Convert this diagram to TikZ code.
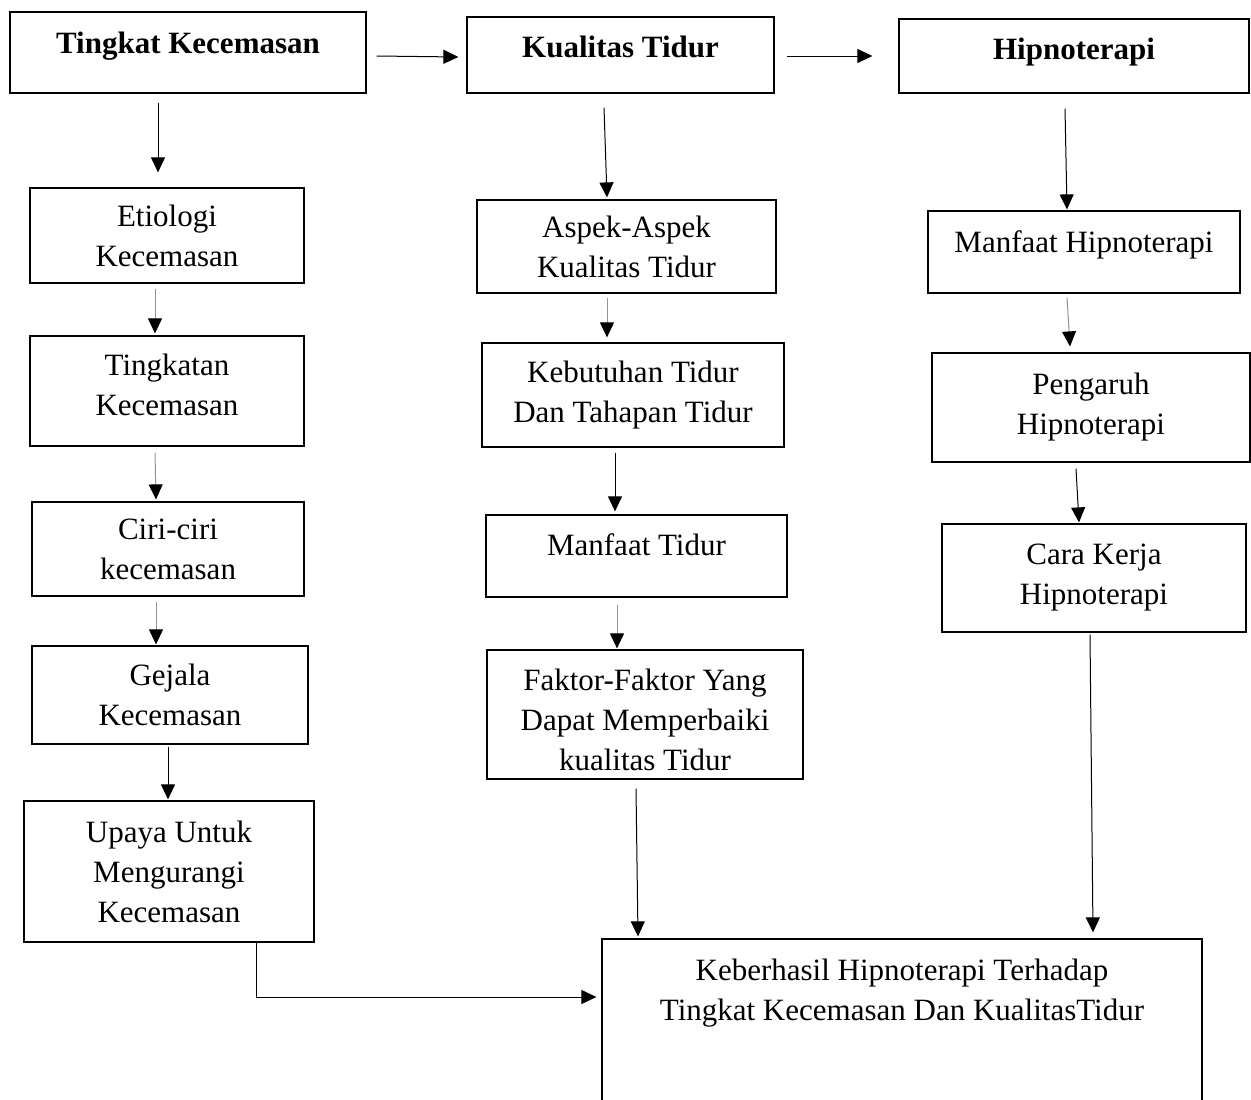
\documentclass[tikz,border=0pt]{standalone}
\usepackage{fontspec}
\setmainfont{Liberation Serif}
\usetikzlibrary{arrows.meta}
\begin{document}
\begin{tikzpicture}[x=1pt,y=-1pt,>={Triangle[length=15pt,width=14pt]},
  every node/.style={font=\fontsize{31}{40}\selectfont},
  box/.style={draw,line width=1.2pt,align=center,inner sep=0pt},
  hdr/.style={font=\fontsize{31}{40}\selectfont\bfseries},
  sz/.style 2 args={minimum width=#1pt,minimum height=#2pt},
  arr/.style={->,line width=1pt},
  garr/.style={line width=1pt,draw=gray!85,-{Triangle[length=15pt,width=14pt,color=black]}}]
\useasboundingbox (0,0) rectangle (1251,1100);
% top row
\node[box,hdr,sz={356}{81},text height=21pt,text depth=20pt] (tk) at (188,52.5) {Tingkat Kecemasan};
\node[box,hdr,sz={307}{76},text height=21pt,text depth=17pt] (kt) at (620.5,55) {Kualitas Tidur};
\node[box,hdr,sz={350}{74},text height=21pt,text depth=15pt] (hp) at (1074,56) {Hipnoterapi};
\draw[arr] ([shift={(10,3.5)}]tk.east)--([shift={(-8,2)}]kt.west);
\draw[arr] ([shift={(12,1)}]kt.east)--([shift={(-26,0)}]hp.west);
% left column
\node[box,sz={274}{95}] (et) at (167,235.5) {Etiologi\\Kecemasan};
\node[box,sz={274}{110},text height=61pt,text depth=13pt] (tg) at (167,391) {Tingkatan\\Kecemasan};
\node[box,sz={272}{94}] (cc) at (168,549) {Ciri-ciri\\kecemasan};
\node[box,sz={276}{98}] (gj) at (170,695) {Gejala\\Kecemasan};
\node[box,sz={290}{141}] (up) at (169,871.5) {Upaya Untuk\\Mengurangi\\Kecemasan};
\draw[arr] ([shift={(-30,9)}]tk.south)--([shift={(-9,-15)}]et.north);
\draw[garr] ([shift={(-12,5)}]et.south)--([shift={(-12,-2)}]tg.north);
\draw[garr] ([shift={(-12,6)}]tg.south)--([shift={(-12,-2)}]cc.north);
\draw[garr] ([shift={(-12,5)}]cc.south)--([shift={(-14,-1)}]gj.north);
\draw[arr] ([shift={(-2,2)}]gj.south)--([shift={(-1,-1)}]up.north);
% middle column
\node[box,sz={299}{93}] (as) at (626.5,246.5) {Aspek-Aspek\\Kualitas Tidur};
\node[box,sz={302}{104}] (kb) at (633,395) {Kebutuhan Tidur\\Dan Tahapan Tidur};
\node[box,sz={301}{82},text height=21pt,text depth=23pt] (mt) at (636.5,556) {Manfaat Tidur};
\node[box,sz={316}{129},text height=111pt,text depth=0pt] (fk) at (645,714.5) {Faktor-Faktor Yang\\Dapat Memperbaiki\\kualitas Tidur};
\draw[arr] ([shift={(-16.5,14)}]kt.south)--([shift={(-19.5,-2)}]as.north);
\draw[garr] ([shift={(-19.5,4)}]as.south)--([shift={(-26,-5)}]kb.north);
\draw[arr] ([shift={(-18,5)}]kb.south)--([shift={(-21.5,-3)}]mt.north);
\draw[garr] ([shift={(-19.5,7)}]mt.south)--([shift={(-28,-1)}]fk.north);
% right column
\node[box,sz={312}{82},text height=21pt,text depth=21pt] (mh) at (1084,252) {Manfaat Hipnoterapi};
\node[box,sz={318}{109}] (ph) at (1091,407.5) {Pengaruh\\Hipnoterapi};
\node[box,sz={304}{108}] (ck) at (1094,578) {Cara Kerja\\Hipnoterapi};
\draw[arr] ([shift={(-9,15)}]hp.south)--([shift={(-17,-1)}]mh.north);
\draw[garr] ([shift={(-17,4)}]mh.south)--([shift={(-21,-6)}]ph.north);
\draw[arr] ([shift={(-15,6)}]ph.south)--([shift={(-15,-1)}]ck.north);
% result
\node[box,sz={600}{171},text height=21pt,text depth=30pt] (kh) at (902,1024.5) {Keberhasil Hipnoterapi Terhadap\\Tingkat Kecemasan Dan KualitasTidur};
\draw[arr] ([shift={(-9,9)}]fk.south)--([shift={(-264,-2)}]kh.north);
\draw[arr] ([shift={(-4,2)}]ck.south)--([shift={(191,-6)}]kh.north);
\draw[arr] ([shift={(87,0)}]up.south) |- ([shift={(-5,-27.5)}]kh.west);
\end{tikzpicture}
\end{document}
